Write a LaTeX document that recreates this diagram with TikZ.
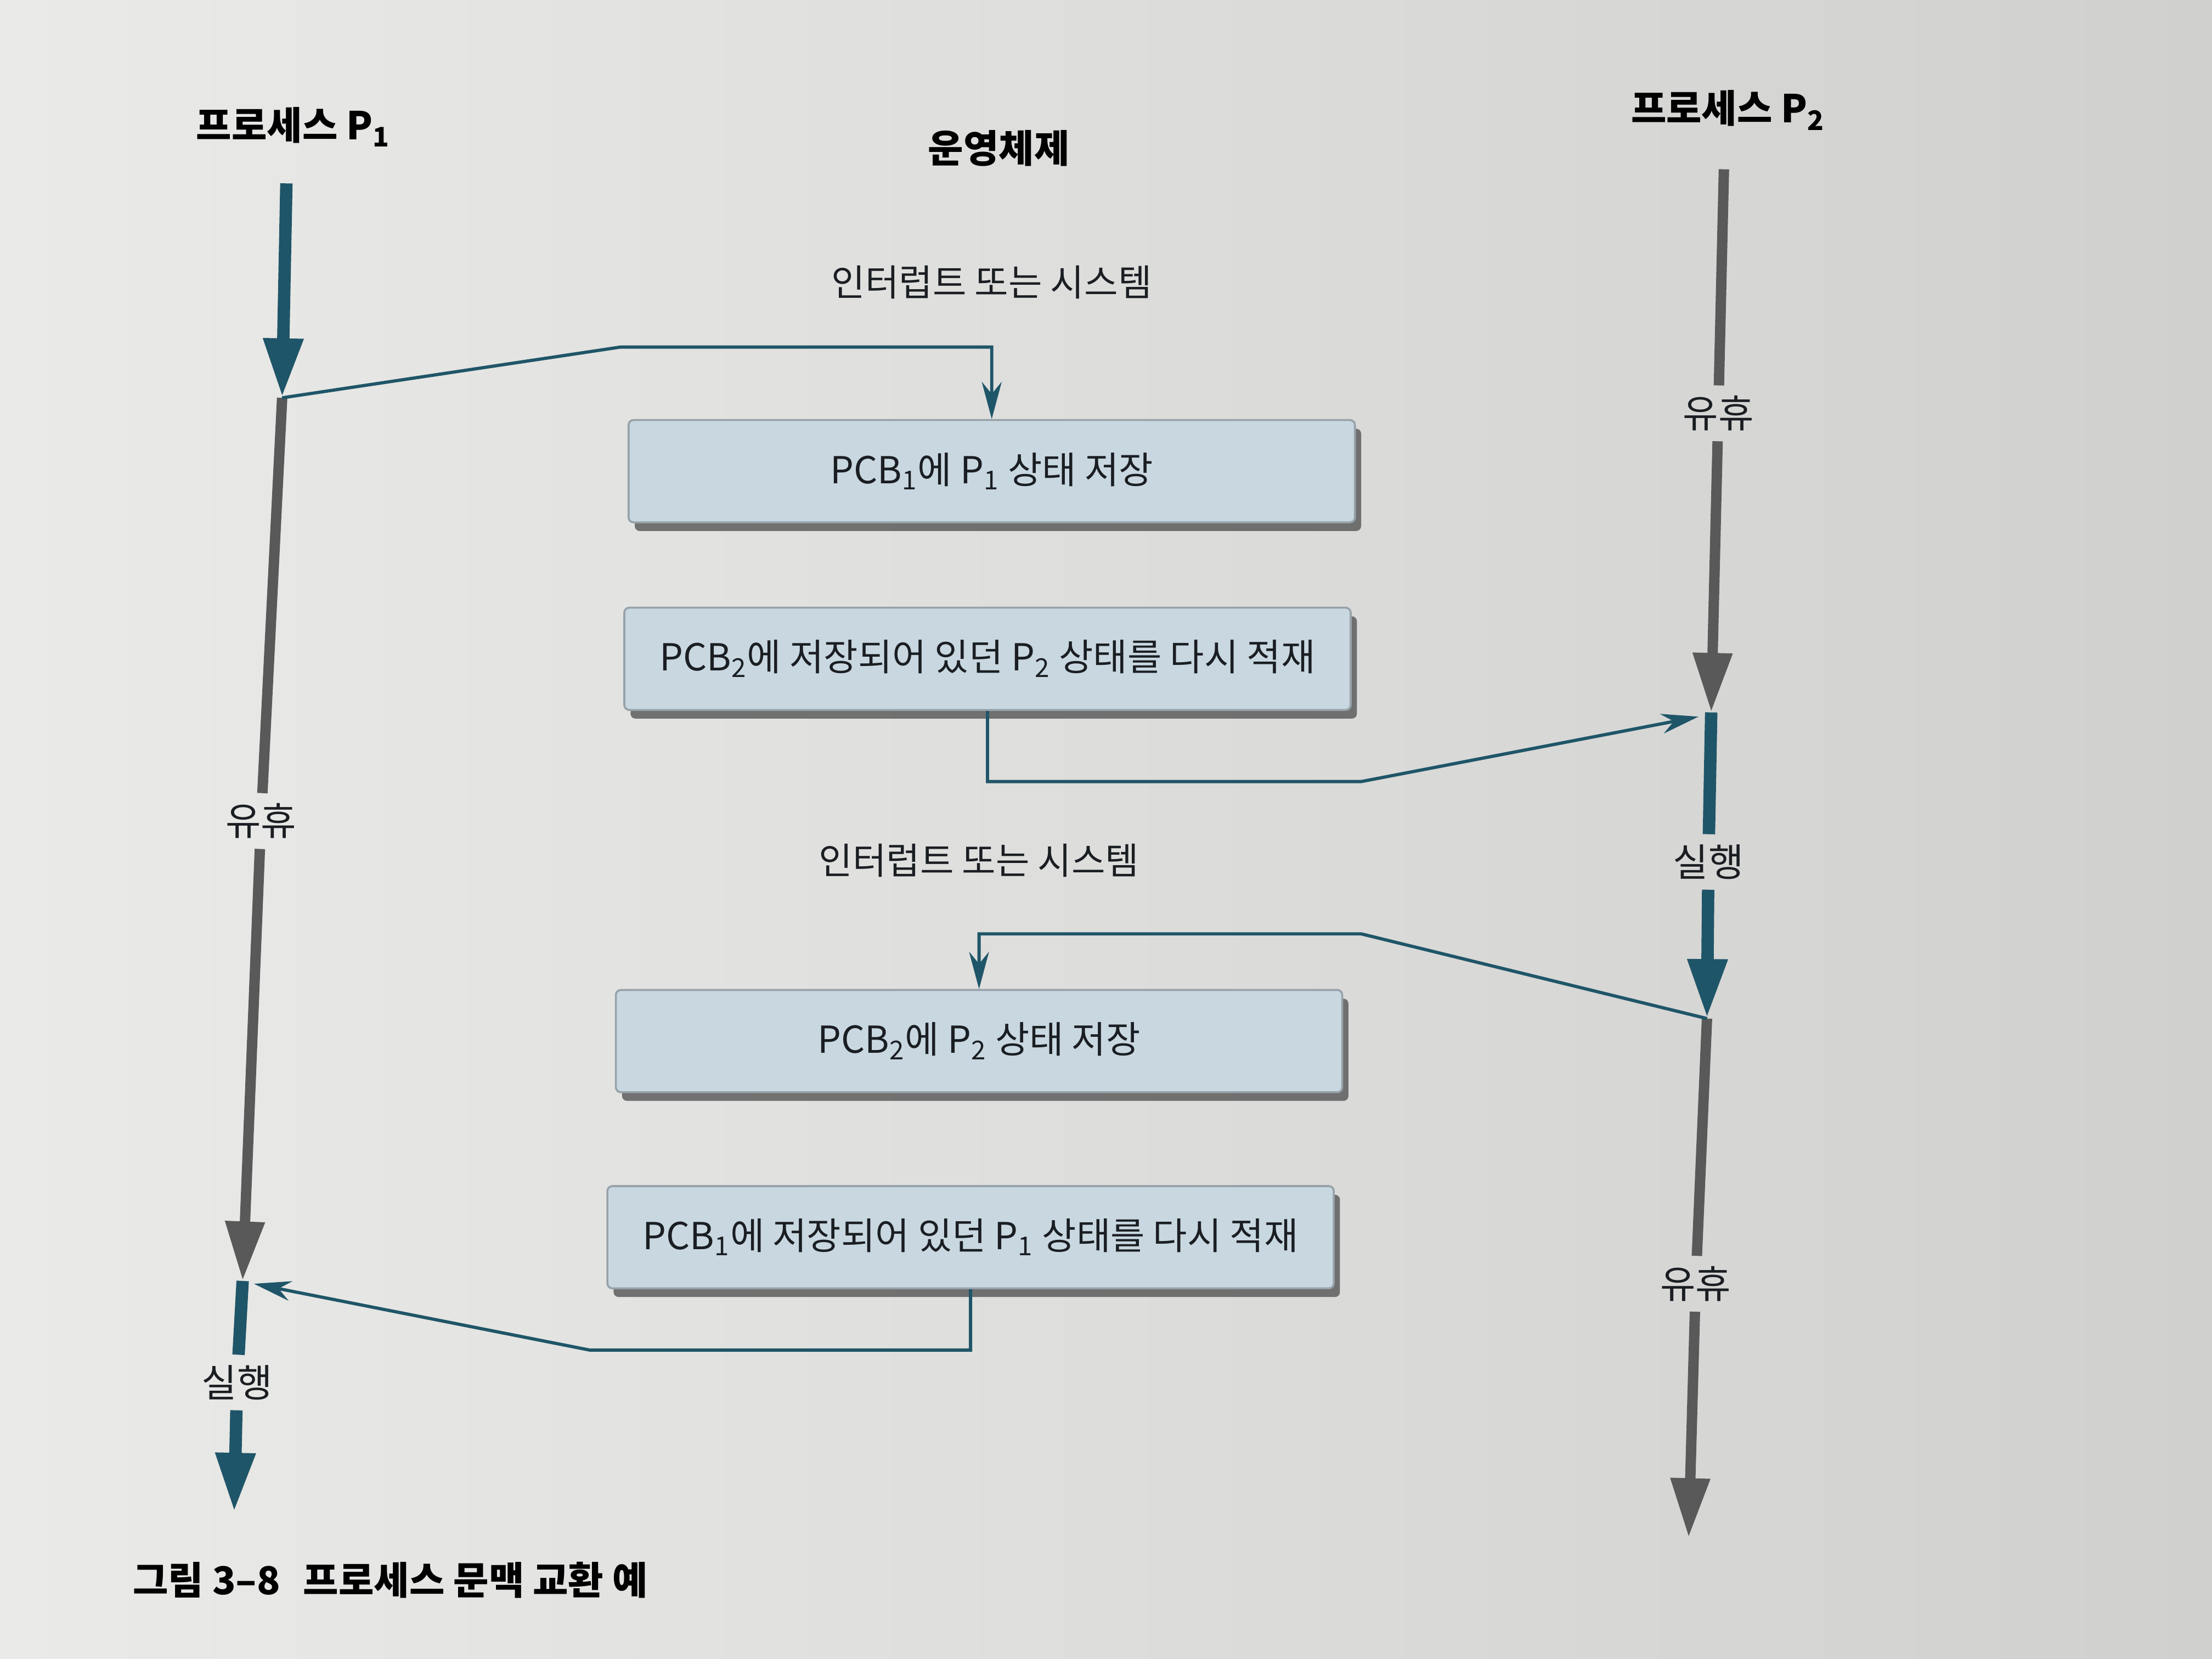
\documentclass[tikz,border=0pt]{standalone}
\usepackage{fontspec}
\setmainfont{Noto Sans CJK KR}
\usetikzlibrary{arrows.meta,shadows}
\definecolor{runteal}{HTML}{1F5568}
\definecolor{idlegray}{HTML}{595959}
\definecolor{pcbfill}{HTML}{C8D7E0}
\definecolor{pcbedge}{HTML}{97A2A9}
\definecolor{paperleft}{HTML}{EAEAE8}
\definecolor{paperright}{HTML}{D0D0CF}
\definecolor{inktext}{HTML}{1A1E22}
\newcommand{\pidx}[1]{\textsubscript{#1}}
\tikzset{
    runline/.style={runteal, line width=5pt},
    idleline/.style={idlegray, line width=4.2pt},
    bigtip/.style={-{Triangle[width=15pt,length=24pt]}},
    link/.style={runteal, line width=1.3pt, -{Stealth[width=8pt,length=15pt]}},
    pcbbox/.style={draw=pcbedge, fill=pcbfill, line width=0.8pt, rounded corners=2pt,
        minimum width=10.3cm, minimum height=1.45cm,
        drop shadow={shadow xshift=2.5pt, shadow yshift=-3.5pt, fill=black!70, opacity=0.75},
        font=\fontsize{15}{17}\selectfont, text=inktext},
    head/.style={font=\fontsize{15.5}{18}\selectfont\bfseries, text=black},
    state/.style={font=\fontsize{15.5}{18}\selectfont, text=inktext, inner sep=4pt},
    cause/.style={font=\fontsize{14.8}{17}\selectfont, text=inktext},
}

\begin{document}
\begin{tikzpicture}[x=0.02cm, y=-0.02cm]
    \useasboundingbox (0,0) rectangle (1568,1176);
    \fill[left color=paperleft, right color=paperright] (0,0) rectangle (1568,1176);

    \node[head] (p1name) at (208,90) {프로세스 P\pidx{1}};
    \node[head] (osname) at (708,105) {운영체제};
    \node[head] (p2name) at (1225,78) {프로세스 P\pidx{2}};

    \node[pcbbox] (box1) at (703,334) {PCB\pidx{1}에 P\pidx{1} 상태 저장};
    \node[pcbbox] (box2) at (700,467) {PCB\pidx{2}에 저장되어 있던 P\pidx{2} 상태를 다시 적재};
    \node[pcbbox] (box3) at (694,738) {PCB\pidx{2}에 P\pidx{2} 상태 저장};
    \node[pcbbox] (box4) at (688,877) {PCB\pidx{1}에 저장되어 있던 P\pidx{1} 상태를 다시 적재};

    \node[cause] (irq1) at (703,200) {인터럽트 또는 시스템};
    \node[cause] (irq2) at (694,610) {인터럽트 또는 시스템};

    \coordinate (p1top) at (203,130);
    \coordinate (p1int) at (200,282);
    \node[state] (p1idle) at (185,582) {유휴};
    \coordinate (p1ret) at (172,908);
    \coordinate (p1back) at (180,910);
    \node[state] (p1run) at (168,980) {실행};
    \coordinate (p1end) at (166,1072);

    \coordinate (p2top) at (1222,120);
    \node[state] (p2idleA) at (1218,293) {유휴};
    \coordinate (p2sw) at (1213,505);
    \coordinate (p2in) at (1204,508);
    \node[state] (p2run) at (1211,611) {실행};
    \coordinate (p2int) at (1210,722);
    \node[state] (p2idleB) at (1202,910) {유휴};
    \coordinate (p2end) at (1197,1090);

    \draw[runline, bigtip] (p1top) -- (p1int);
    \draw[idleline] (p1int) -- (p1idle);
    \draw[idleline, bigtip] (p1idle) -- (p1ret);
    \draw[runline] (p1ret) -- (p1run);
    \draw[runline, bigtip] (p1run) -- (p1end);

    \draw[idleline] (p2top) -- (p2idleA);
    \draw[idleline, bigtip] (p2idleA) -- (p2sw);
    \draw[runline] (p2sw) -- (p2run);
    \draw[runline, bigtip] (p2run) -- (p2int);
    \draw[idleline] (p2int) -- (p2idleB);
    \draw[idleline, bigtip] (p2idleB) -- (p2end);

    \coordinate (bend1) at (440,246);
    \coordinate (bend2) at (965,554);
    \coordinate (bend3) at (965,662);
    \coordinate (bend4) at (418,957);

    \draw[link] (p1int) -- (bend1) -| (box1.north);
    \draw[link] (box2.south) |- (bend2) -- (p2in);
    \draw[link] (p2int) -- (bend3) -| (box3.north);
    \draw[link] (box4.south) |- (bend4) -- (p1back);

    \node[head, anchor=west] (caption) at (88,1120) {그림 3–8\hspace{0.6em}프로세스 문맥 교환 예};
\end{tikzpicture}
\end{document}
